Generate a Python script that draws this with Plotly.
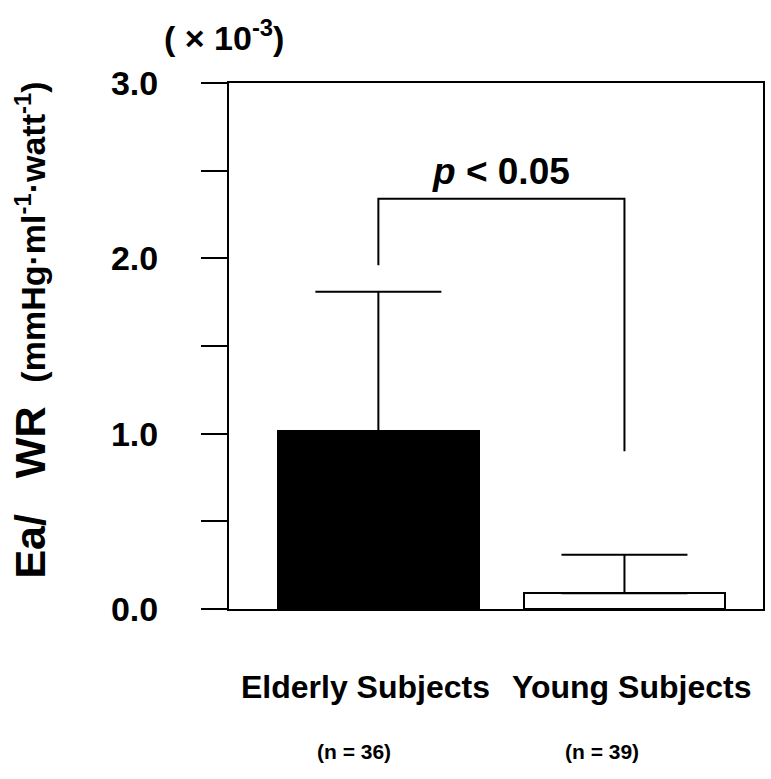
import plotly.graph_objects as go

categories = ["Elderly Subjects", "Young Subjects"]
n_labels = ["(n = 36)", "(n = 39)"]
x_pos = [0, 1]
means = [1.015, 0.09]
sd_upper = [0.795, 0.22]
bracket_x = [0, 0, 1, 1]
bracket_y = [1.96, 2.34, 2.34, 0.90]
y_ticks = [0.0, 1.0, 2.0, 3.0]
y_minor = [0.5, 1.5, 2.5]

FONT = "Liberation Sans, Arial, sans-serif"

fig = go.Figure()
fig.add_trace(go.Bar(
    x=x_pos, y=means, width=0.818,
    marker=dict(color=["#000000", "#ffffff"], line=dict(color="#000000", width=2)),
    error_y=dict(type="data", symmetric=False, array=sd_upper,
                 arrayminus=[0, 0], color="#000000", thickness=2, width=63),
    showlegend=False,
))
fig.add_trace(go.Scatter(
    x=bracket_x, y=bracket_y, mode="lines",
    line=dict(color="#000000", width=2), showlegend=False, hoverinfo="skip",
))

fig.update_layout(
    width=771, height=779,
    margin=dict(l=229, r=6, t=83, b=170),
    plot_bgcolor="#ffffff", paper_bgcolor="#ffffff",
    font=dict(family=FONT, color="#000000"),
    bargap=0,
)
fig.update_xaxes(
    range=[-0.607, 1.563], showticklabels=False, ticks="",
    showgrid=False, zeroline=False,
    showline=True, linecolor="#000000", linewidth=2, mirror=True,
)
fig.update_yaxes(
    range=[0, 3.0], tickvals=y_ticks,
    ticktext=[f"<b>{v:.1f}</b>" for v in y_ticks],
    tickfont=dict(size=34, family=FONT, color="#000000"),
    ticks="outside", ticklen=26, tickwidth=2, tickcolor="#000000",
    ticklabelstandoff=36,
    minor=dict(tickvals=y_minor, ticks="outside", ticklen=26, tickwidth=2, tickcolor="#000000"),
    showgrid=False, zeroline=False,
    showline=True, linecolor="#000000", linewidth=2, mirror=True,
)

# y-axis title
fig.add_annotation(
    xref="paper", yref="paper", x=-0.372, y=0.530, xanchor="center", yanchor="middle",
    textangle=-90, showarrow=False,
    text=("<b><span style='font-size:43px'>Ea/&nbsp;&nbsp;&nbsp;WR&nbsp;&nbsp;</span>"
          "(mmHg·ml<sup>-1</sup>·watt<sup>-1</sup>)</b>"),
    font=dict(size=34, family=FONT, color="#000000"),
)
# scale note
fig.add_annotation(
    xref="paper", yref="paper", x=-0.01, y=1.091, xanchor="center", yanchor="middle",
    showarrow=False, text="<b>( × 10<sup>-3</sup>)</b>",
    font=dict(size=34, family=FONT, color="#000000"),
)
# p value
fig.add_annotation(
    x=0.498, y=2.34, xref="x", yref="y", yanchor="bottom", yshift=5, showarrow=False,
    text="<b><i>p</i> &lt; 0.05</b>", font=dict(size=37, family=FONT, color="#000000"),
)
# category labels
cat_shift = [-0.053, 0.028]
n_shift = [-0.10, -0.093]
for xp, cat, nl, s, ns in zip(x_pos, categories, n_labels, cat_shift, n_shift):
    fig.add_annotation(
        x=xp + s, y=0, xref="x", yref="paper", yanchor="middle", yshift=-78,
        showarrow=False, text=f"<b>{cat}</b>",
        font=dict(size=32, family=FONT, color="#000000"),
    )
    fig.add_annotation(
        x=xp + ns, y=0, xref="x", yref="paper", yanchor="middle", yshift=-142,
        showarrow=False, text=f"<b>{nl}</b>",
        font=dict(size=21, family=FONT, color="#000000"),
    )

fig.write_html("out.html")
